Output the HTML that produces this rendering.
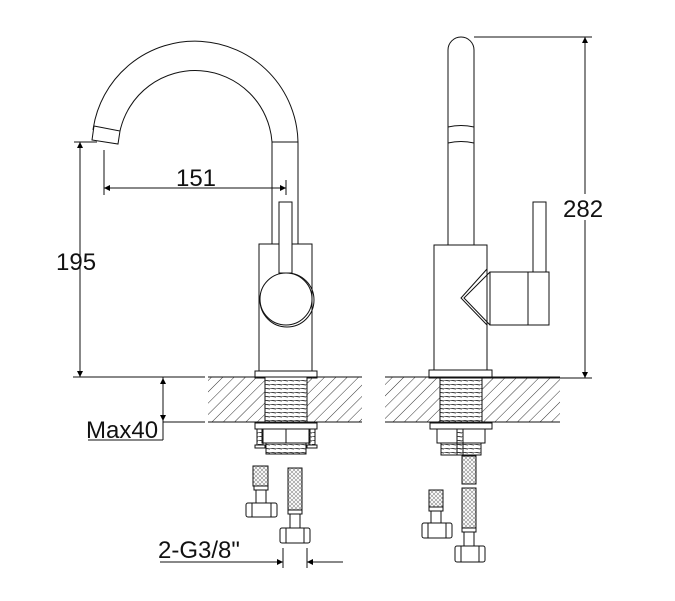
<!DOCTYPE html>
<html><head><meta charset="utf-8"><style>
html,body{margin:0;padding:0;background:#fff;}
svg{display:block;}
text{font-family:"Liberation Sans",sans-serif;fill:#111;}
</style></head><body>
<svg width="675" height="601" viewBox="0 0 675 601" xmlns="http://www.w3.org/2000/svg">
<defs>
<pattern id="hatch" width="8" height="8" patternUnits="userSpaceOnUse" patternTransform="rotate(45)">
<line x1="0" y1="0" x2="0" y2="8" stroke="#333" stroke-width="1"/>
</pattern>
<pattern id="braid" width="4" height="4" patternUnits="userSpaceOnUse">
<path d="M0 0L4 4M4 0L0 4" stroke="#888" stroke-width="0.6"/>
</pattern>
<pattern id="thread" width="6" height="4" patternUnits="userSpaceOnUse">
<line x1="0" y1="0" x2="6" y2="1" stroke="#333" stroke-width="1"/>
</pattern>
<marker id="ar" viewBox="0 0 10 10" refX="10" refY="5" markerWidth="12" markerHeight="6" markerUnits="userSpaceOnUse" orient="auto-start-reverse">
<path d="M0 0L10 5L0 10z" fill="#000"/>
</marker>
</defs>
<g fill="none" stroke="#111" stroke-width="1">
<path d="M93 130 A103 103 0 0 1 298 142"/>
<path d="M120 131 A77 77 0 0 1 272 142"/>
<path d="M94 126 L120 131 L118 144 L92 140 Z"/>
<line x1="272" y1="142" x2="298" y2="142"/>
<line x1="272" y1="142" x2="272" y2="244"/>
<line x1="298" y1="142" x2="298" y2="244"/>
<rect x="259" y="244" width="53" height="127"/>
<rect x="255" y="371" width="62" height="7"/>
<circle cx="287" cy="300" r="27"/>
<circle cx="286" cy="299" r="26" fill="#fff"/>
<rect x="279" y="202" width="13" height="71" fill="#fff"/>
<line x1="104" y1="150" x2="104" y2="195"/>
<line x1="286" y1="180" x2="286" y2="195"/>
<line x1="104" y1="188" x2="286" y2="188" marker-start="url(#ar)" marker-end="url(#ar)"/>
<line x1="74" y1="142" x2="97" y2="142"/>
<line x1="80" y1="142" x2="80" y2="377" marker-start="url(#ar)" marker-end="url(#ar)"/>
<line x1="73" y1="377" x2="205" y2="377"/>
<line x1="163" y1="377" x2="163" y2="440"/>
<line x1="163" y1="378" x2="163" y2="421" marker-start="url(#ar)" marker-end="url(#ar)"/>
<line x1="163" y1="422" x2="205" y2="422"/>
<line x1="88" y1="440" x2="163" y2="440"/>
<rect x="208" y="377" width="154" height="45" fill="url(#hatch)" stroke="none"/>
<line x1="208" y1="377" x2="362" y2="377"/><line x1="208" y1="422" x2="362" y2="422"/>
<rect x="385" y="377" width="175" height="45" fill="url(#hatch)" stroke="none"/>
<line x1="385" y1="377" x2="560" y2="377"/><line x1="385" y1="422" x2="560" y2="422"/>
<rect x="265" y="377" width="42" height="45" fill="#fff"/>
<rect x="265" y="377" width="42" height="45" fill="url(#thread)"/>
<rect x="440" y="377" width="42" height="45" fill="#fff"/>
<rect x="440" y="377" width="42" height="45" fill="url(#thread)"/>
<rect x="255" y="423" width="62" height="6"/>
<rect x="262" y="429" width="48" height="14"/>
<line x1="286" y1="429" x2="286" y2="443"/>
<rect x="266" y="443" width="40" height="11" fill="url(#thread)"/>
<rect x="257" y="429" width="6" height="16" fill="url(#thread)"/>
<rect x="309" y="429" width="6" height="16" fill="url(#thread)"/>
<rect x="255" y="445" width="10" height="3"/><rect x="307" y="445" width="10" height="3"/>
<rect x="253" y="466" width="15" height="20" fill="url(#braid)"/>
<rect x="254" y="486" width="14" height="4"/>
<rect x="256" y="490" width="10" height="13"/>
<rect x="246" y="503" width="31" height="14" rx="2"/>
<line x1="252" y1="503" x2="252" y2="517"/><line x1="271" y1="503" x2="271" y2="517"/>
<rect x="288" y="468" width="14" height="42" fill="url(#braid)"/>
<rect x="288" y="510" width="14" height="4"/>
<rect x="290" y="514" width="10" height="14"/>
<rect x="280" y="528" width="30" height="15" rx="2"/>
<line x1="286" y1="528" x2="286" y2="543"/><line x1="304" y1="528" x2="304" y2="543"/>
<line x1="160" y1="562" x2="283" y2="562" marker-end="url(#ar)"/>
<line x1="343" y1="562" x2="307" y2="562" marker-end="url(#ar)"/>
<line x1="283" y1="548" x2="283" y2="568"/><line x1="307" y1="548" x2="307" y2="568"/>
<path d="M448 245 L448 50 A13 13 0 0 1 474 50 L474 245"/>
<path d="M448 127 Q461 124 474 127"/><path d="M448 143 Q461 140 474 143"/>
<rect x="434" y="245" width="53" height="125"/>
<rect x="429" y="370" width="63" height="8"/>
<path d="M487 269 L461 298 L487 325"/>
<path d="M490 272 L464 298 L490 325"/>
<rect x="490" y="272" width="38" height="53" fill="#fff"/>
<rect x="528" y="272" width="21" height="53"/>
<rect x="533" y="202" width="13" height="70"/>
<line x1="474" y1="37" x2="592" y2="37"/>
<line x1="490" y1="378" x2="592" y2="378"/>
<line x1="585" y1="37" x2="585" y2="378" marker-start="url(#ar)" marker-end="url(#ar)"/>
<rect x="430" y="423" width="62" height="6"/>
<rect x="437" y="429" width="48" height="14"/>
<rect x="441" y="443" width="40" height="12" fill="url(#thread)"/>
<rect x="457" y="429" width="6" height="26" fill="url(#thread)"/>
<rect x="462" y="456" width="14" height="28" fill="url(#braid)"/>
<rect x="462" y="488" width="14" height="40" fill="url(#braid)"/>
<rect x="462" y="528" width="14" height="4"/>
<rect x="464" y="532" width="10" height="14"/>
<rect x="455" y="546" width="30" height="16" rx="2"/>
<line x1="461" y1="546" x2="461" y2="562"/><line x1="479" y1="546" x2="479" y2="562"/>
<rect x="429" y="490" width="14" height="17" fill="url(#braid)"/>
<rect x="429" y="507" width="14" height="4"/>
<rect x="431" y="511" width="10" height="12"/>
<rect x="422" y="523" width="30" height="15" rx="2"/>
<line x1="428" y1="523" x2="428" y2="538"/><line x1="446" y1="523" x2="446" y2="538"/>
</g>
<rect x="562" y="194" width="46" height="26" fill="#fff"/>
<text x="196" y="186" font-size="24" text-anchor="middle">151</text>
<text x="56" y="270" font-size="24">195</text>
<text x="563" y="217" font-size="24">282</text>
<text x="86" y="438" font-size="24">Max40</text>
<text x="158" y="558" font-size="24">2-G3/8"</text>
</svg>
</body></html>
